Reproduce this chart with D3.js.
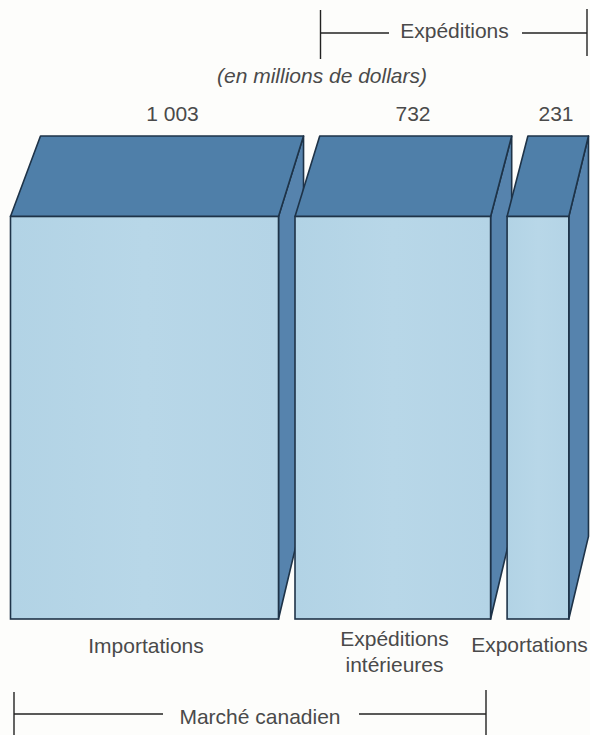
<!DOCTYPE html>
<html><head><meta charset="utf-8">
<script src="https://cdn.jsdelivr.net/npm/d3@7"></script>
<style>html,body{margin:0;padding:0;background:#fdfdfb}svg{display:block}text{font-family:"Liberation Sans",sans-serif;fill:#4a4a4a;font-size:21px}</style>
</head><body><svg id="c" width="590" height="735"></svg>
<script>
const categories = ["Importations", "Expéditions intérieures", "Exportations"];
const values = [1003, 732, 231];
const valueLabels = ["1 003", "732", "231"];
const categoryLines = [["Importations"], ["Expéditions", "intérieures"], ["Exportations"]];
const subtitle = "(en millions de dollars)";
const bracketTop = "Expéditions";
const bracketBottom = "Marché canadien";

const svg = d3.select("#c");
const gap = 16.5, x0 = 10.5, frontTop = 216.5, frontBottom = 619, backTop = 136;
const w = d3.scaleLinear().domain([0, 1003]).range([0, 268]);
const depth = x => 30 - 0.0185 * (x - 10);
const backBottom = x => frontBottom - 4.2 * depth(x);
const gapLine = d3.line();

let cursor = x0;
const bars = values.map((v, i) => {
  const b = {v, i, x1: cursor, x2: cursor + w(v)};
  cursor = b.x2 + gap;
  return b;
});
const stroke = "#1e3348", sw = 1.6;
const defs = svg.append("defs");
const grad = defs.append("linearGradient").attr("id","front").attr("x1",0).attr("x2",1).attr("y1",0).attr("y2",0);
grad.append("stop").attr("offset","0%").attr("stop-color","#b2d3e5");
grad.append("stop").attr("offset","50%").attr("stop-color","#b8d7e8");
grad.append("stop").attr("offset","100%").attr("stop-color","#b4d4e6");

const g = svg.selectAll("g.bar").data(bars).join("g").attr("class","bar");
g.append("path").attr("d", d => gapLine([[d.x2,frontTop],[d.x2+depth(d.x2),backTop],[d.x2+depth(d.x2),backBottom(d.x2)],[d.x2,frontBottom]])+"Z")
 .attr("fill","#5683ad").attr("stroke",stroke).attr("stroke-width",sw).attr("stroke-linejoin","round");
g.append("path").attr("d", d => gapLine([[d.x1,frontTop],[d.x1+depth(d.x1),backTop],[d.x2+depth(d.x2),backTop],[d.x2,frontTop]])+"Z")
 .attr("fill","#4f7fa9").attr("stroke",stroke).attr("stroke-width",sw).attr("stroke-linejoin","round");
g.append("rect").attr("x",d=>d.x1).attr("y",frontTop).attr("width",d=>d.x2-d.x1).attr("height",frontBottom-frontTop)
 .attr("fill","url(#front)").attr("stroke",stroke).attr("stroke-width",sw);

const valueCx = [172.5, 413, 556], valueY = 121;
svg.selectAll("text.val").data(valueLabels).join("text").attr("class","val")
  .attr("x",(d,i)=>valueCx[i]).attr("y",valueY).attr("text-anchor","middle").text(d=>d);

const catCx = [146, 394.5, 529.5], catY = [[653],[646,672],[652]];
categoryLines.forEach((lines,i)=>lines.forEach((t,j)=>{
  svg.append("text").attr("x",catCx[i]).attr("y",catY[i][j]).attr("text-anchor","middle").text(t);
}));
svg.append("text").attr("x",322).attr("y",83).attr("text-anchor","middle").attr("font-style","italic").text(subtitle);

function bracket(xa,xb,y,ya,yb,la,lb,label,ty){
  const gb = svg.append("g").attr("stroke","#222").attr("stroke-width",1.4).attr("fill","none");
  [[[xa,ya[0]],[xa,ya[1]]],[[xb,yb[0]],[xb,yb[1]]],[[xa,y],[la,y]],[[lb,y],[xb,y]]].forEach(p=>gb.append("path").attr("d",gapLine(p)));
  svg.append("text").attr("x",(la+lb)/2-1).attr("y",ty).attr("text-anchor","middle").text(label);
}
bracket(320.5,587,33,[10,59],[9,56],389,522,bracketTop,38);
bracket(14,486,714,[692,735],[690,735],163,359,bracketBottom,724);
</script></body></html>
